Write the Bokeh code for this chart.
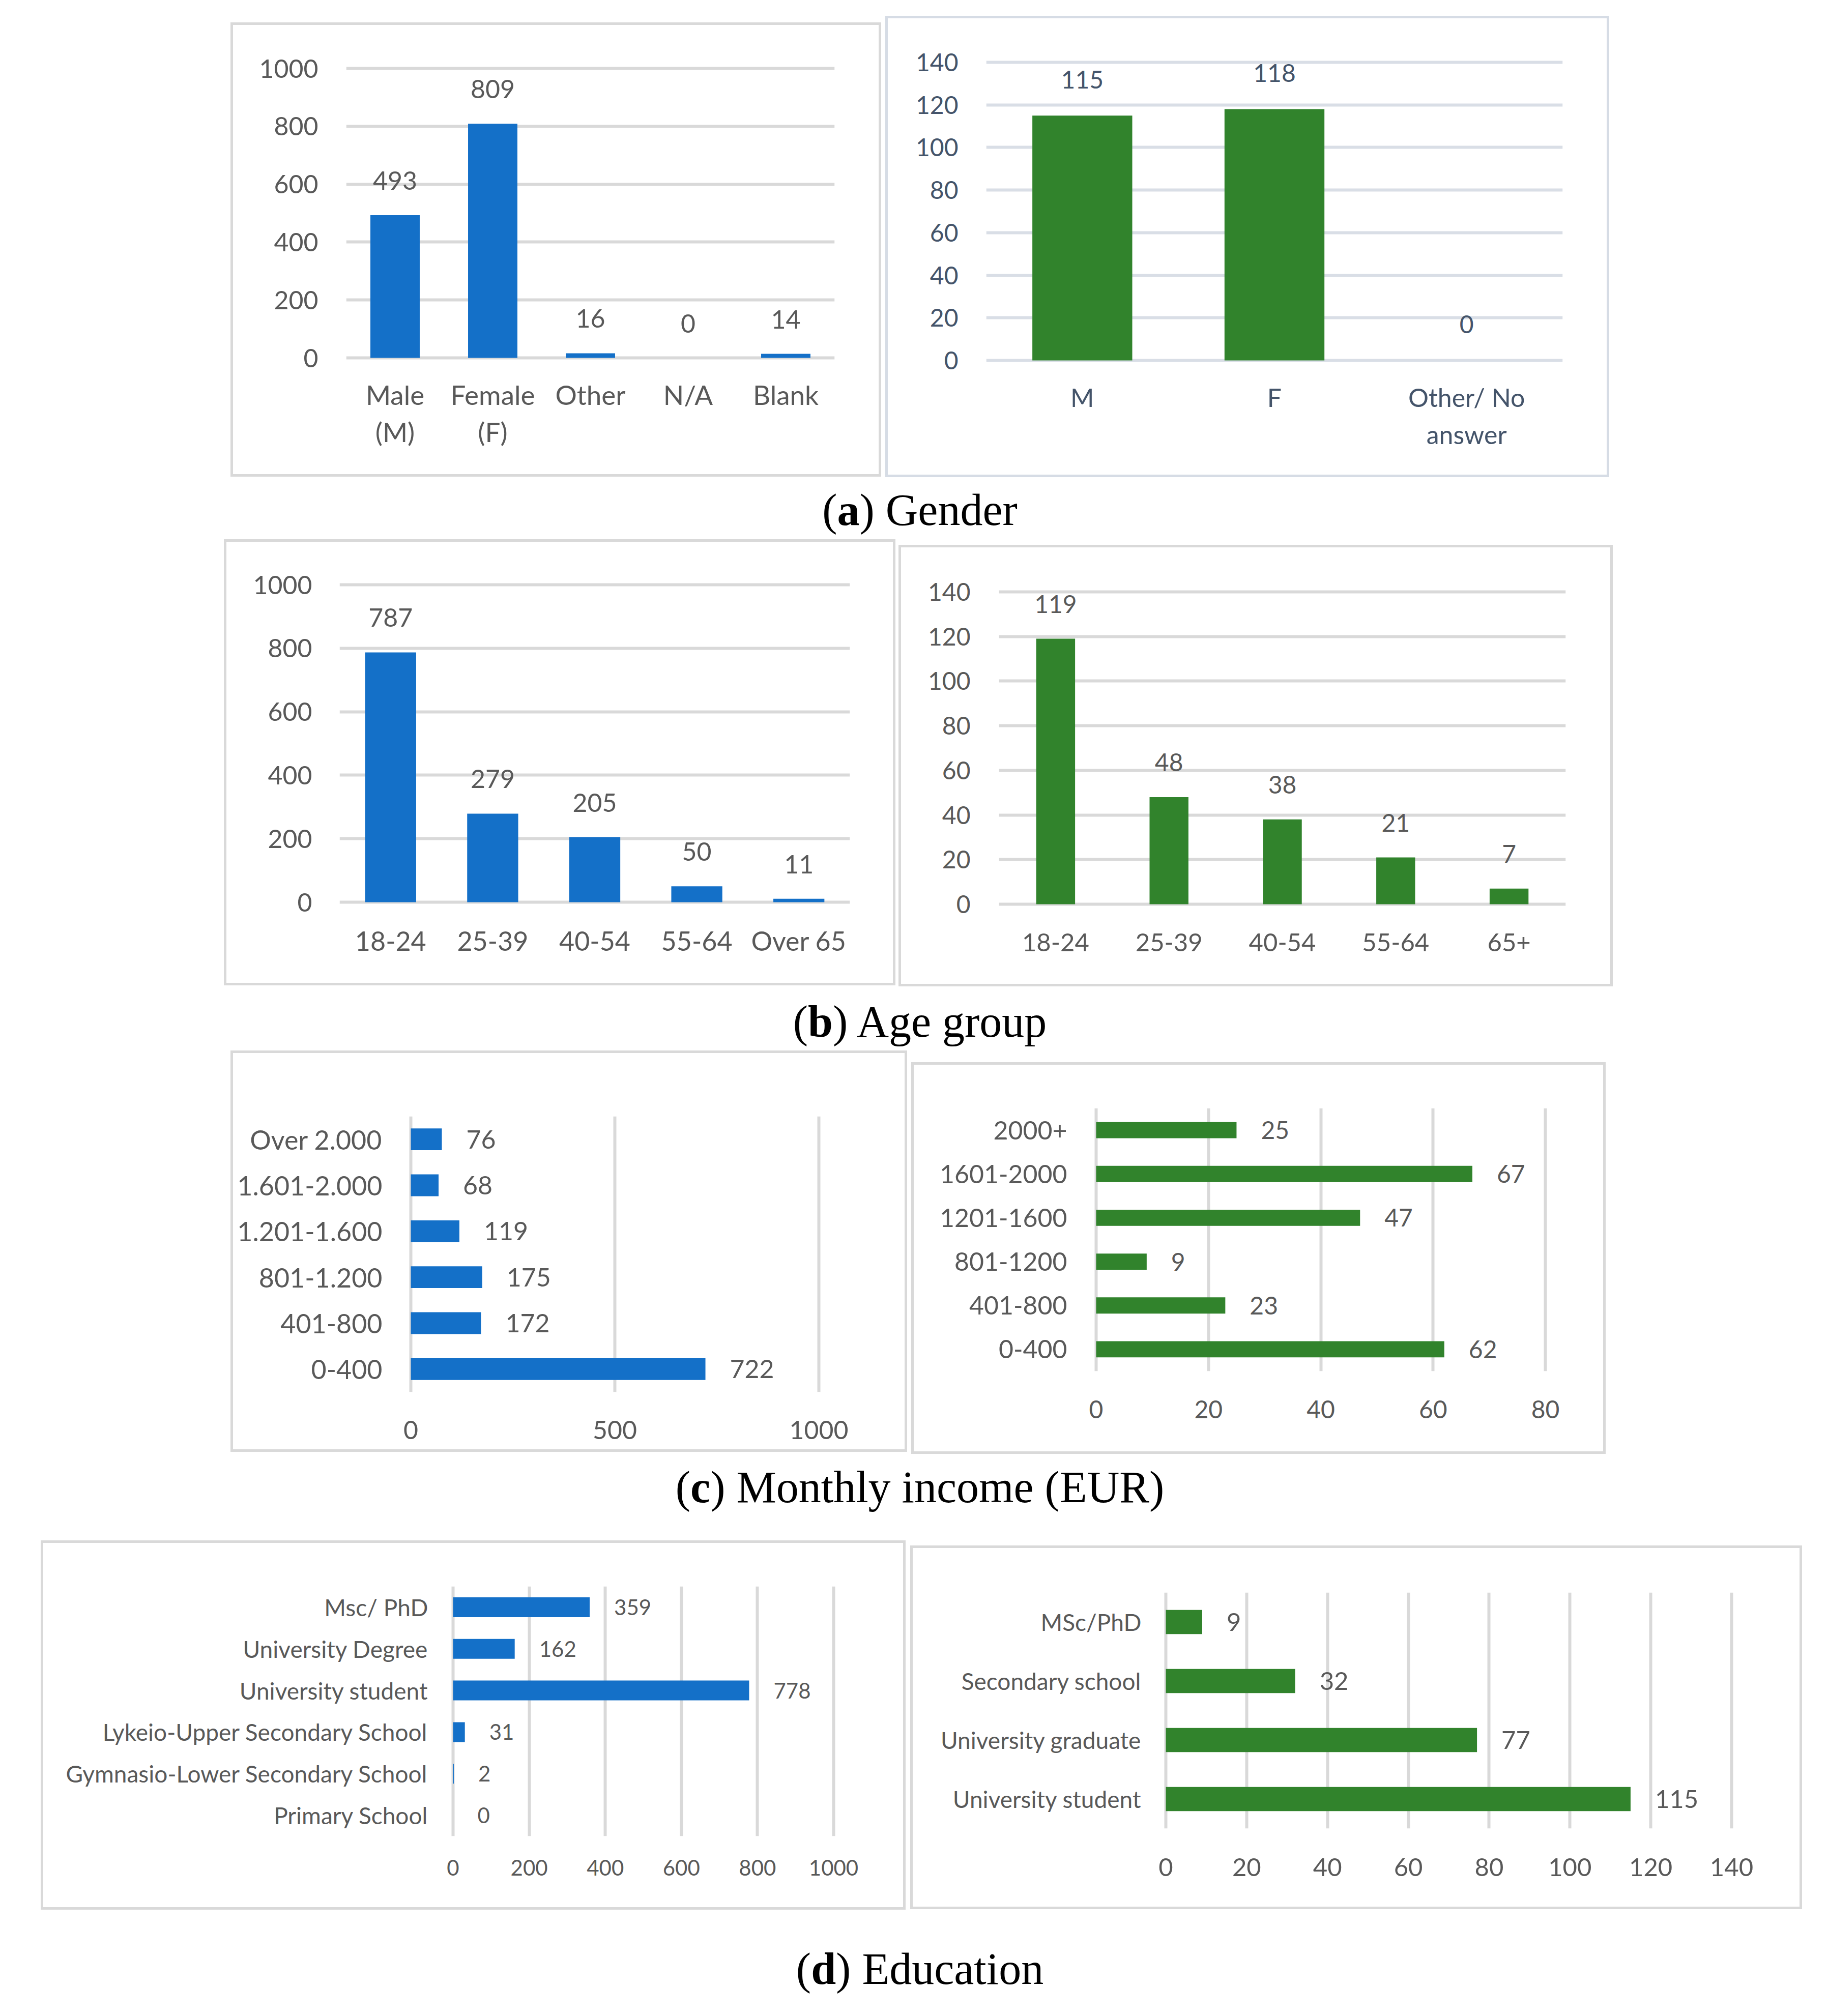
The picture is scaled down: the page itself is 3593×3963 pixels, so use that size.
from bokeh.plotting import figure
from bokeh.models import Range1d, FactorRange, FixedTicker, Spacer, Div, ColumnDataSource, CategoricalAxis
from bokeh.layouts import row, column
from bokeh.core.properties import value
from bokeh.embed import file_html
from bokeh.resources import INLINE

# ---------------- data ----------------
gender_all_cats = ["Male (M)", "Female (F)", "Other", "N/A", "Blank"]
gender_all_vals = [493, 809, 16, 0, 14]
gender_ath_cats = ["M", "F", "Other/ No answer"]
gender_ath_vals = [115, 118, 0]

age_all_cats = ["18-24", "25-39", "40-54", "55-64", "Over 65"]
age_all_vals = [787, 279, 205, 50, 11]
age_ath_cats = ["18-24", "25-39", "40-54", "55-64", "65+"]
age_ath_vals = [119, 48, 38, 21, 7]

income_all_cats = ["0-400", "401-800", "801-1.200", "1.201-1.600", "1.601-2.000", "Over 2.000"]
income_all_vals = [722, 172, 175, 119, 68, 76]
income_ath_cats = ["0-400", "401-800", "801-1200", "1201-1600", "1601-2000", "2000+"]
income_ath_vals = [62, 23, 9, 47, 67, 25]

edu_all_cats = ["Primary School", "Gymnasio-Lower Secondary School", "Lykeio-Upper Secondary School",
                "University student", "University Degree", "Msc/ PhD"]
edu_all_vals = [0, 2, 31, 778, 162, 359]
edu_ath_cats = ["University student", "University graduate", "Secondary school", "MSc/PhD"]
edu_ath_vals = [115, 77, 32, 9]

# two-line category labels (first line, second line)
gender_all_lines = {"Male (M)": ("Male", "(M)"), "Female (F)": ("Female", "(F)"),
                    "Other": ("Other", ""), "N/A": ("N/A", ""), "Blank": ("Blank", "")}
gender_ath_lines = {"M": ("M", ""), "F": ("F", ""), "Other/ No answer": ("Other/ No", "answer")}

ticks_1000 = [0, 200, 400, 600, 800, 1000]
ticks_140 = [0, 20, 40, 60, 80, 100, 120, 140]
ticks_income_all = [0, 500, 1000]
ticks_80 = [0, 20, 40, 60, 80]

captions = [("a", " Gender"), ("b", " Age group"), ("c", " Monthly income (EUR)"), ("d", " Education")]

# ---------------- styles ----------------
GREY = "#595959"
NAVY = "#44546A"
BLUE = "#1470C8"
GREEN = "#31832C"
GRID = "#D9D9D9"
GRID_B = "#D9DEE6"
BORDER = "#D9D9D9"
BORDER_B = "#D6DCE5"
FONT = "Lato"
ORIGIN = 0


def lin(va, pa, vb, pb, p):
    return va + (p - pa) * (vb - va) / (pb - pa)


def style_axis(ax, txt, fs, st):
    ax.axis_line_color = None
    ax.major_tick_line_color = None
    ax.minor_tick_line_color = None
    ax.major_tick_out = 0
    ax.major_tick_in = 0
    ax.major_label_standoff = st
    ax.major_label_text_font = FONT
    ax.major_label_text_font_size = f"{fs}px"
    ax.major_label_text_color = txt


def base_fig(box, fl, fr, ft, fb, x_range, y_range, border_col):
    L, T, R, B = box
    p = figure(width=R - L, height=B - T, x_range=x_range, y_range=y_range,
               output_backend="svg", toolbar_location=None,
               min_border_left=fl - L, min_border_right=R - fr,
               min_border_top=ft - T, min_border_bottom=B - fb,
               styles={"box-shadow": f"inset 0 0 0 5px {border_col}"})
    p.border_fill_color = None
    p.background_fill_color = "white"
    p.outline_line_color = None
    return p


def vertical_panel(box, fx, y0p, ytp, ytop, ftop, fbot, cats, vals, ticks, bar_w, color,
                   txt, grid_col, border_col, fs, fs_cat, ystand, xstand, lab_off,
                   lines=None, stand2=12):
    y_rng = Range1d(lin(0, y0p, ytop, ytp, fbot), lin(0, y0p, ytop, ytp, ftop))
    p = base_fig(box, fx[0], fx[1], ftop, fbot, FactorRange(*cats), y_rng, border_col)
    src = ColumnDataSource(dict(cat=cats, val=vals, lab=[str(v) for v in vals]))
    p.vbar(x="cat", top="val", bottom=0, width=bar_w, source=src, fill_color=color, line_color=None)
    p.text(x="cat", y="val", text="lab", source=src, text_align="center", text_baseline="middle",
           y_offset=lab_off, text_font=value(FONT), text_font_size=f"{fs}px", text_color=txt)
    p.yaxis.ticker = FixedTicker(ticks=ticks)
    p.xgrid.visible = False
    p.ygrid.grid_line_color = grid_col
    p.ygrid.grid_line_width = 6
    style_axis(p.yaxis[0], txt, fs, ystand)
    if lines:
        # category labels written on two lines: one axis per line, sharing positions
        line1 = [lines[c][0] for c in cats]
        line2 = [lines[c][1] if lines[c][1] else " " * (i + 1) for i, c in enumerate(cats)]
        p.extra_x_ranges = {"line1": FactorRange(*line1), "line2": FactorRange(*line2)}
        p.xaxis[0].visible = False
        ax1 = CategoricalAxis(x_range_name="line1")
        style_axis(ax1, txt, fs_cat, xstand)
        p.add_layout(ax1, "below")
        ax2 = CategoricalAxis(x_range_name="line2")
        style_axis(ax2, txt, fs_cat, stand2)
        p.add_layout(ax2, "below")
    else:
        style_axis(p.xaxis[0], txt, fs_cat, xstand)
    return p


def horizontal_panel(box, fy, x0p, xtp, xtop, fl, fr, cats, vals, ticks, bar_h, color,
                     txt, grid_col, border_col, fs_cat, fs_num, fs_lab, ystand, xstand, lab_off):
    x_rng = Range1d(lin(0, x0p, xtop, xtp, fl), lin(0, x0p, xtop, xtp, fr))
    p = base_fig(box, fl, fr, fy[0], fy[1], x_rng, FactorRange(*cats), border_col)
    src = ColumnDataSource(dict(cat=cats, val=vals, lab=[str(v) for v in vals]))
    p.hbar(y="cat", right="val", left=0, height=bar_h, source=src, fill_color=color, line_color=None)
    p.text(x="val", y="cat", text="lab", source=src, text_align="left", text_baseline="middle",
           x_offset=lab_off, text_font=value(FONT), text_font_size=f"{fs_lab}px", text_color=txt)
    p.xaxis.ticker = FixedTicker(ticks=ticks)
    p.ygrid.visible = False
    p.xgrid.grid_line_color = grid_col
    p.xgrid.grid_line_width = 6
    style_axis(p.xaxis[0], txt, fs_num, xstand)
    style_axis(p.yaxis[0], txt, fs_cat, ystand)
    return p


A1 = vertical_panel((453, 44, 1732, 937), (680, 1640), 703, 134, 1000, 94, 713,
                    gender_all_cats, gender_all_vals, ticks_1000, 0.505, BLUE, GREY, GRID, BORDER,
                    50, 53, 55, 30, -68, lines=gender_all_lines, stand2=7)
A2 = vertical_panel((1740, 31, 3163, 938), (1938, 3071), 708, 122, 140, 90, 718,
                    gender_ath_cats, gender_ath_vals, ticks_140, 0.52, GREEN, NAVY, GRID_B, BORDER_B,
                    48, 50, 55, 32, -71, lines=gender_ath_lines, stand2=10)
B1 = vertical_panel((440, 1060, 1760, 1937), (667, 1670), 1773, 1149, 1000, 1105, 1783,
                    age_all_cats, age_all_vals, ticks_1000, 0.5, BLUE, GREY, GRID, BORDER,
                    50, 52, 54, 34, -68)
B2 = vertical_panel((1766, 1071, 3170, 1939), (1963, 3077), 1777, 1163, 140, 1115, 1787,
                    age_ath_cats, age_ath_vals, ticks_140, 0.343, GREEN, GREY, GRID, BORDER,
                    48, 49, 56, 47, -68)
C1 = horizontal_panel((453, 2065, 1783, 2854), (2194, 2736), 807, 1609, 1000, 799, 1617,
                      income_all_cats, income_all_vals, ticks_income_all, 0.475, BLUE, GREY, GRID, BORDER,
                      52, 50, 50, 48, 56, 48)
C2 = horizontal_panel((1791, 2088, 3156, 2858), (2178, 2695), 2154, 3037, 80, 2146, 3045,
                      income_ath_cats, income_ath_vals, ticks_80, 0.37, GREEN, GREY, GRID, BORDER,
                      50, 48, 48, 49, 57, 48)
D1 = horizontal_panel((80, 3028, 1780, 3754), (3118, 3609), 890, 1638, 1000, 882, 1646,
                      edu_all_cats, edu_all_vals, ticks_1000, 0.477, BLUE, GREY, GRID, BORDER,
                      46, 42, 42, 41, 46, 48)
D2 = horizontal_panel((1789, 3038, 3542, 3753), (3130, 3594), 2291, 3403, 140, 2283, 3411,
                      edu_ath_cats, edu_ath_vals, ticks_140, 0.41, GREEN, GREY, GRID, BORDER,
                      46, 49, 49, 40, 58, 48)


def panel_row(top, left_box, left_fig, right_box, right_fig):
    kids = [Spacer(width=left_box[0] - ORIGIN, height=1)]
    c1 = [left_fig] if left_box[1] == top else [Spacer(width=1, height=left_box[1] - top), left_fig]
    kids.append(column(*c1))
    kids.append(Spacer(width=right_box[0] - left_box[2], height=1))
    c2 = [right_fig] if right_box[1] == top else [Spacer(width=1, height=right_box[1] - top), right_fig]
    kids.append(column(*c2))
    return row(*kids)


def caption_block(letter, rest, s1, s2):
    div = Div(text=f"(<b>{letter}</b>){rest}", width=1600, height=100, margin=(0, 0, 0, 0),
              styles={"font-family": "Liberation Serif", "font-size": "88px", "line-height": "100px",
                      "text-align": "center", "color": "black", "white-space": "nowrap"})
    kids = []
    if s1 > 0:
        kids.append(Spacer(width=1, height=s1))
    kids.append(row(Spacer(width=1008 - ORIGIN, height=1), div))
    if s2 > 0:
        kids.append(Spacer(width=1, height=s2))
    return column(*kids)


layout = column(
    Spacer(width=1, height=31 - ORIGIN),
    panel_row(31, (453, 44, 1732, 937), A1, (1740, 31, 3163, 938), A2),
    caption_block(*captions[0], 15, 7),
    panel_row(1060, (440, 1060, 1760, 1937), B1, (1766, 1071, 3170, 1939), B2),
    caption_block(*captions[1], 20, 6),
    panel_row(2065, (453, 2065, 1783, 2854), C1, (1791, 2088, 3156, 2858), C2),
    caption_block(*captions[2], 16, 54),
    panel_row(3028, (80, 3028, 1780, 3754), D1, (1789, 3038, 3542, 3753), D2),
    caption_block(*captions[3], 67, 0),
)

open("out.html", "w").write(file_html(layout, INLINE))
